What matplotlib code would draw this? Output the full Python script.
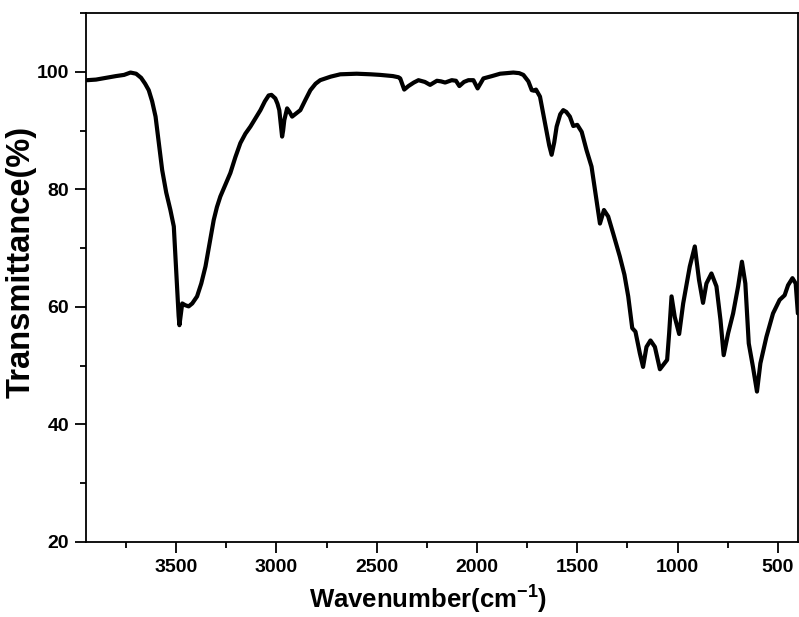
import numpy as np
import matplotlib
matplotlib.use("Agg")
import matplotlib.pyplot as plt
from matplotlib.ticker import MultipleLocator

# FTIR spectrum
wavenumber = [3944, 3900, 3850, 3800, 3760, 3728, 3700, 3675, 3655, 3637,
              3620, 3603, 3587, 3570, 3550, 3529, 3512, 3503, 3495, 3488,
              3484, 3478, 3470, 3455, 3438, 3420, 3396, 3375, 3354, 3333,
              3313, 3297, 3280, 3255, 3230, 3205, 3180, 3155, 3130, 3105,
              3080, 3058, 3039, 3025, 3006, 2995, 2986, 2978, 2972, 2967,
              2961, 2947, 2935, 2922, 2900, 2881, 2855, 2831, 2805, 2782,
              2730, 2682, 2600, 2530, 2483, 2420, 2392, 2383, 2363, 2342,
              2315, 2292, 2260, 2234, 2200, 2180, 2159, 2126, 2105, 2088,
              2065, 2043, 2018, 1997, 1968, 1925, 1885, 1819, 1790, 1769,
              1744, 1727, 1715, 1706, 1686, 1661, 1640, 1628, 1615, 1603,
              1585, 1570, 1555, 1537, 1520, 1500, 1478, 1454, 1429, 1407,
              1387, 1367, 1346, 1321, 1288, 1265, 1246, 1226, 1210, 1188,
              1172, 1155, 1135, 1113, 1088, 1072, 1052, 1042, 1030, 1014,
              992, 972, 939, 914, 893, 873, 856, 831, 806, 786,
              770, 748, 723, 698, 679, 662, 645, 624, 604, 587,
              557, 524, 491, 466, 449, 427, 411, 400]
transmittance = [98.6, 98.7, 99.0, 99.3, 99.5, 99.9, 99.7, 99.0, 98.0, 96.9,
                 95.0, 92.4, 88.0, 83.3, 79.5, 76.5, 73.7, 68.0, 62.9, 58.5,
                 56.9, 58.5, 60.6, 60.3, 60.1, 60.6, 61.8, 64.0, 66.9, 71.0,
                 74.8, 77.0, 78.8, 80.8, 82.8, 85.5, 87.9, 89.5, 90.7, 92.1,
                 93.5, 95.0, 96.0, 96.1, 95.5, 94.6, 93.5, 91.0, 89.0, 90.0,
                 91.8, 93.8, 93.2, 92.4, 93.0, 93.5, 95.3, 96.9, 98.0, 98.6,
                 99.2, 99.6, 99.7, 99.6, 99.5, 99.3, 99.1, 98.9, 97.0, 97.6,
                 98.2, 98.6, 98.3, 97.8, 98.5, 98.4, 98.2, 98.6, 98.5, 97.6,
                 98.3, 98.6, 98.6, 97.2, 98.9, 99.3, 99.7, 99.9, 99.8, 99.5,
                 98.4, 96.9, 96.8, 97.0, 95.8, 91.3, 87.5, 85.9, 88.0, 90.7,
                 92.8, 93.5, 93.2, 92.4, 90.8, 91.0, 89.8, 86.7, 83.9, 78.8,
                 74.2, 76.5, 75.4, 72.5, 68.6, 65.5, 61.8, 56.4, 55.8, 52.1,
                 49.8, 53.2, 54.3, 53.2, 49.4, 50.1, 51.0, 55.5, 61.8, 58.3,
                 55.4, 60.6, 66.9, 70.3, 64.6, 60.7, 64.0, 65.7, 63.5, 57.8,
                 51.8, 55.5, 58.9, 63.5, 67.7, 64.0, 53.8, 49.8, 45.6, 50.4,
                 54.9, 58.9, 61.2, 62.0, 63.7, 64.9, 64.0, 58.9]

plt.rcParams['font.family'] = ['Liberation Sans', 'DejaVu Sans']
plt.rcParams['font.weight'] = 'bold'
plt.rcParams['mathtext.fontset'] = 'custom'
plt.rcParams['mathtext.rm'] = 'Liberation Sans:bold'
plt.rcParams['mathtext.bf'] = 'Liberation Sans:bold'
plt.rcParams['mathtext.default'] = 'bf'

fig = plt.figure(figsize=(7.99, 6.17), dpi=100)
ax = fig.add_axes([0.1076, 0.1216, 0.891, 0.857])

ax.plot(wavenumber, transmittance, color='black', lw=3.0,
        solid_joinstyle='round', solid_capstyle='round')

ax.set_xlim(3950, 400)
ax.set_ylim(20, 110)
ax.xaxis.set_major_locator(MultipleLocator(500))
ax.xaxis.set_minor_locator(MultipleLocator(250))
ax.set_yticks([20, 40, 60, 80, 100])
ax.yaxis.set_minor_locator(MultipleLocator(10))

ax.tick_params(which='both', direction='out', top=False, right=False,
               width=1.3, labelsize=14)
ax.tick_params(which='major', length=8, pad=4)
ax.tick_params(which='minor', length=4.5)
for s in ax.spines.values():
    s.set_linewidth(1.3)

ax.set_xlabel('Wavenumber(cm$^{-1}$)', fontsize=18.5, fontweight='bold')
ax.set_ylabel('Transmittance(%)', fontsize=23.5, fontweight='bold')
ax.xaxis.set_label_coords(0.481, -0.08)
ax.yaxis.set_label_coords(-0.069, 0.53)

fig.savefig('out.png', dpi=100)
